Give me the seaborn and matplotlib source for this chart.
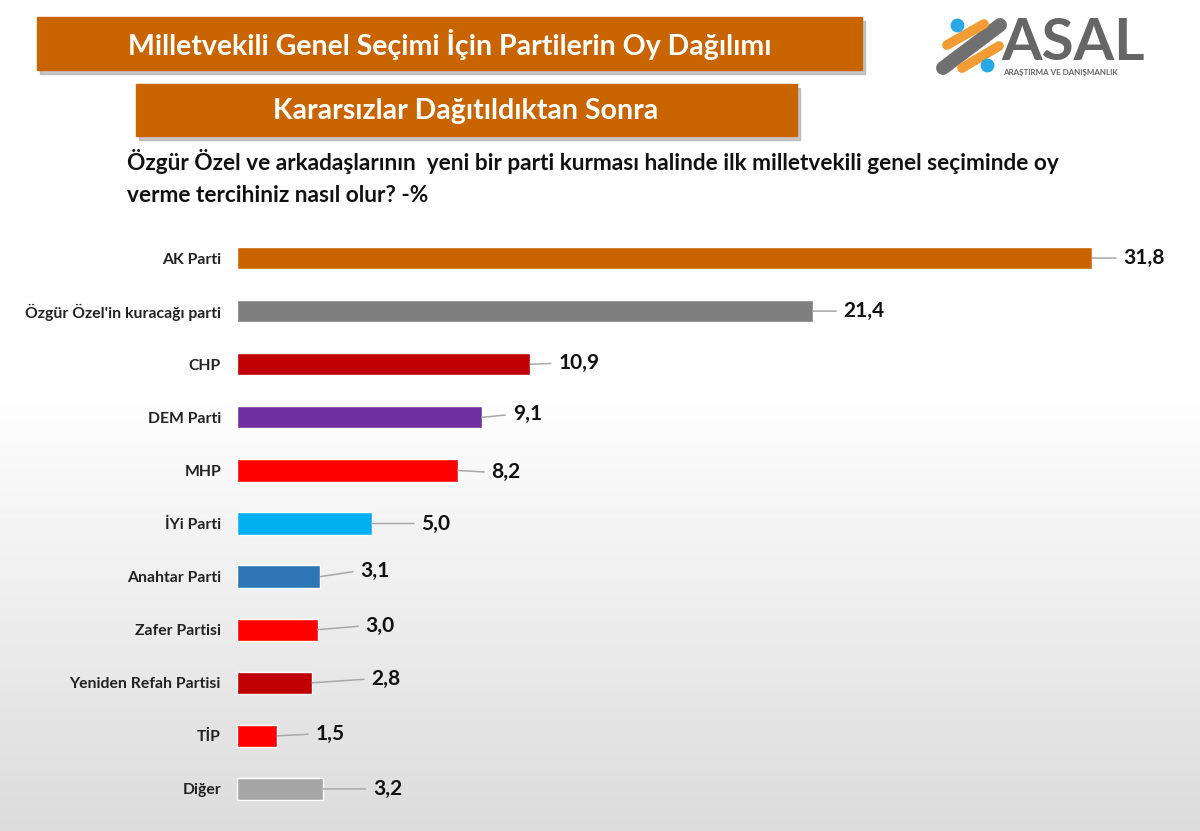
import numpy as np
import pandas as pd
import matplotlib
matplotlib.use("Agg")
import matplotlib.pyplot as plt
import matplotlib.patches as mpatches
import seaborn as sns

parties = ["AK Parti", "Özgür Özel'in kuracağı parti", "CHP", "DEM Parti", "MHP",
           "İYi Parti", "Anahtar Parti", "Zafer Partisi", "Yeniden Refah Partisi",
           "TİP", "Diğer"]
votes = [31.8, 21.4, 10.9, 9.1, 8.2, 5.0, 3.1, 3.0, 2.8, 1.5, 3.2]
bar_colors = ["#C96500", "#7F7F7F", "#C00000", "#7030A0", "#FF0000", "#00B0F0",
              "#2E75B6", "#FF0000", "#C00000", "#FF0000", "#A6A6A6"]

title1 = "Milletvekili Genel Seçimi İçin Partilerin Oy Dağılımı"
title2 = "Kararsızlar Dağıtıldıktan Sonra"
question1 = "Özgür Özel ve arkadaşlarının  yeni bir parti kurması halinde ilk milletvekili genel seçiminde oy"
question2 = "verme tercihiniz nasıl olur? -%"

# label offsets (px) from bar end to the value text, as in the slide
label_offsets = [(31, 0), (31, 0), (28, 1), (31, 3), (34, -2), (50, 0),
                 (40, 6), (48, 4), (59, 4), (38, 2), (50, 0)]

sns.set_theme(style="white")
plt.rcParams["font.family"] = ["Lato", "DejaVu Sans"]

df = pd.DataFrame({"parti": parties, "oy": votes})

fig = plt.figure(figsize=(12, 8.31), dpi=100)

# background + decorations in pixel coordinates
bg = fig.add_axes([0, 0, 1, 1])
bg.set_xlim(0, 1200)
bg.set_ylim(831, 0)
bg.axis("off")
grad = np.concatenate([np.ones(380), np.linspace(1, 0.86, 451)])
bg.imshow(np.tile(grad[:, None], (1, 2)), cmap="gray", vmin=0, vmax=1,
          extent=[0, 1200, 831, 0], aspect="auto", zorder=0)

orange = "#C96500"
for (x0, y0, x1, y1) in [(37, 17, 862, 70), (136, 84, 797, 136)]:
    bg.add_patch(mpatches.Rectangle((x0 + 3, y0 + 4), x1 - x0, y1 - y0,
                                    color="#9a9a9a", alpha=0.55, zorder=1))
    bg.add_patch(mpatches.Rectangle((x0, y0), x1 - x0, y1 - y0,
                                    color=orange, zorder=2))
bg.text(450, 45, title1, ha="center", va="center", color="white",
        fontsize=20.5, fontweight="bold", zorder=3)
bg.text(466, 111, title2, ha="center", va="center", color="white",
        fontsize=20.5, fontweight="bold", zorder=3)

bg.text(127, 162, question1, ha="left", va="center", color="#111111",
        fontsize=16.3, fontweight="bold")
bg.text(127, 195, question2, ha="left", va="center", color="#111111",
        fontsize=16.3, fontweight="bold")

# logo
bg.plot([943, 1000], [68, 25], color="#707070", lw=10, solid_capstyle="round", zorder=3)
bg.plot([947, 984], [45, 24], color="#F39C33", lw=7, solid_capstyle="round", zorder=4)
bg.plot([962, 999], [68, 46], color="#F39C33", lw=7, solid_capstyle="round", zorder=4)
bg.scatter([957, 987], [25, 65], s=80, color="#29A8E8", zorder=5)
bg.text(1001, 60, "ASAL", ha="left", va="baseline", color="#666666",
        fontsize=42, fontweight="bold", zorder=5)
bg.text(1003, 75, "ARAŞTIRMA VE DANIŞMANLIK", ha="left", va="baseline",
        color="#666666", fontsize=5.8, fontweight="bold", zorder=5)

# main chart
ax = fig.add_axes([237 / 1200, 1 - 815.5 / 831, 941.5 / 1200, 584 / 831])
ax.patch.set_alpha(0)
sns.barplot(data=df, x="oy", y="parti", hue="parti", palette=bar_colors,
            legend=False, orient="h", width=0.42, ax=ax, saturation=1)
ax.set_xlim(0, 35)
ax.set_ylim(10.5, -0.5)
ax.set_xlabel("")
ax.set_ylabel("")
ax.set_xticks([])
sns.despine(ax=ax, left=True, bottom=True)
ax.tick_params(axis="y", length=0, pad=11.5)
for lab in ax.get_yticklabels():
    lab.set_fontweight("bold")
    lab.set_fontsize(11.3)
    lab.set_color("#222222")

for i, (v, (dx, dy)) in enumerate(zip(votes, label_offsets)):
    ax.annotate(f"{v:.1f}".replace(".", ","), xy=(v, i), xytext=(dx, dy),
                textcoords="offset pixels", ha="left", va="center",
                fontsize=15, fontweight="bold", color="#111111",
                arrowprops=dict(arrowstyle="-", color="#A8A8A8", lw=1.1,
                                shrinkA=3, shrinkB=0, relpos=(0, 0.5)))

fig.savefig("out.png", dpi=100)
